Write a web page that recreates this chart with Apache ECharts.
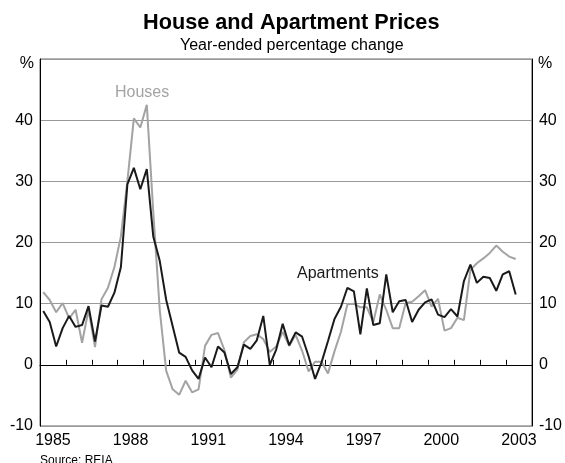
<!DOCTYPE html>
<html>
<head>
<meta charset="utf-8">
<script src="https://cdn.jsdelivr.net/npm/echarts@6/dist/echarts.min.js"></script>
<style>
  html, body { margin: 0; padding: 0; background: #fff; }
  #main { width: 565px; height: 463px; }
</style>
</head>
<body>
<div id="main"></div>
<script>
// quarterly data, March 1985 to June 2003
var firstYear = 1985;
var apartments = [
    8.8, 7.0, 3.0, 6.0, 8.0, 6.2, 6.5, 9.6,
    3.8, 9.7, 9.5, 11.8, 16.0, 29.5, 32.2, 28.7,
    32.0, 21.0, 17.0, 10.6, 6.3, 2.0, 1.3, -0.9,
    -2.3, 1.2, -0.4, 3.0, 2.0, -1.5, -0.4, 3.3,
    2.6, 4.0, 8.0, 0.0, 2.5, 6.7, 3.2, 5.3,
    4.6, 1.4, -2.3, 0.4, 3.9, 7.5, 9.5, 12.6,
    12.0, 5.0, 12.5, 6.5, 6.8, 14.8, 8.6, 10.4,
    10.6, 7.0, 9.0, 10.2, 10.7, 8.2, 7.8, 9.1,
    7.9, 13.7, 16.4, 13.4, 14.4, 14.2, 12.1, 14.8,
    15.3, 11.5
];
var houses = [
    11.9, 10.6, 8.6, 10.1, 7.6, 9.0, 3.6, 9.0,
    2.9, 10.7, 12.6, 16.0, 21.0, 30.0, 40.3, 38.8,
    42.5, 25.0, 9.0, -1.0, -4.0, -4.9, -2.6, -4.5,
    -4.0, 3.1, 4.9, 5.2, 2.4, -2.1, -0.8, 3.7,
    4.7, 5.0, 4.2, 2.1, 3.0, 5.4, 3.1, 4.9,
    2.3, -1.1, 0.5, 0.5, -1.4, 2.2, 5.4, 9.9,
    10.0, 9.4, 9.4, 7.0, 11.5, 9.0, 6.0, 6.0,
    10.1, 10.3, 11.2, 12.2, 9.5, 10.8, 5.6, 6.0,
    7.7, 7.3, 15.5, 16.6, 17.4, 18.3, 19.5, 18.5,
    17.7, 17.3
];
var yearLabels = [1985, 1988, 1991, 1994, 1997, 2000, 2003];
var yTicks = [-10, 0, 10, 20, 30, 40];

// each quarter sits at its middle
function toPoints(values) {
    var pts = [];
    for (var i = 0; i < values.length; i++) {
        pts.push([firstYear + 0.125 + i * 0.25, values[i]]);
    }
    return pts;
}

var font = 'Arial, "Liberation Sans", sans-serif';
var dom = document.getElementById('main');
var myChart = echarts.init(dom, null, { renderer: 'canvas' });

var yLabel = function (v) {
    return yTicks.indexOf(v) >= 0 ? String(v) : '';
};

var option = {
    backgroundColor: '#fff',
    animation: false,
    title: [{
        text: 'House and Apartment Prices',
        left: 138,
        top: 7,
        textStyle: { fontFamily: font, fontSize: 21.7, fontWeight: 'bold', color: '#000' }
    }, {
        text: 'Year-ended percentage change',
        left: 175,
        top: 33,
        textStyle: { fontFamily: font, fontSize: 16, fontWeight: 'normal', color: '#000' }
    }],
    grid: {
        left: 40,
        right: 31,
        top: 59,
        bottom: 37,
        show: true,
        borderColor: '#666',
        borderWidth: 1
    },
    xAxis: [{
        type: 'value',
        min: 1985,
        max: 2004,
        interval: 1,
        position: 'bottom',
        axisLine: { lineStyle: { color: '#000', width: 1 } },
        axisTick: { inside: true, length: 5, lineStyle: { color: '#000' } },
        axisLabel: { show: false },
        splitLine: { show: false }
    }, {
        type: 'value',
        min: 1985,
        max: 2004,
        interval: 0.5,
        position: 'bottom',
        axisLine: { show: false },
        axisTick: { show: false },
        splitLine: { show: false },
        axisLabel: {
            margin: 7,
            fontFamily: font,
            fontSize: 16,
            color: '#000',
            formatter: function (v) {
                var y = Math.floor(v);
                if (Math.abs(v - y - 0.5) < 1e-6 && yearLabels.indexOf(y) >= 0) {
                    return String(y);
                }
                return '';
            }
        }
    }],
    yAxis: [{
        type: 'value',
        min: -10,
        max: 50,
        interval: 10,
        position: 'left',
        name: '%',
        nameLocation: 'end',
        nameGap: -5,
        nameTextStyle: { fontFamily: font, fontSize: 16, color: '#000', align: 'right', verticalAlign: 'middle', padding: [0, 6, 0, 0] },
        axisLine: { show: true, lineStyle: { color: '#000', width: 1 } },
        axisTick: { show: false },
        axisLabel: { margin: 7, fontFamily: font, fontSize: 16, color: '#000', formatter: yLabel },
        splitLine: { show: true, lineStyle: { color: '#999', width: 1 } }
    }, {
        type: 'value',
        min: -10,
        max: 50,
        interval: 10,
        position: 'right',
        name: '%',
        nameLocation: 'end',
        nameGap: -5,
        nameTextStyle: { fontFamily: font, fontSize: 16, color: '#000', align: 'left', verticalAlign: 'middle', padding: [0, 0, 0, 6] },
        axisLine: { show: true, lineStyle: { color: '#000', width: 1 } },
        axisTick: { show: false },
        axisLabel: { margin: 7, fontFamily: font, fontSize: 16, color: '#000', formatter: yLabel },
        splitLine: { show: false }
    }],
    series: [{
        name: 'Houses',
        type: 'line',
        xAxisIndex: 0,
        yAxisIndex: 0,
        data: toPoints(houses),
        showSymbol: false,
        lineStyle: { color: '#a3a3a3', width: 2 },
        z: 2
    }, {
        name: 'Apartments',
        type: 'line',
        xAxisIndex: 0,
        yAxisIndex: 0,
        data: toPoints(apartments),
        showSymbol: false,
        lineStyle: { color: '#1a1a1a', width: 2 },
        z: 3
    }],
    graphic: [{
        type: 'text',
        left: 115,
        top: 85,
        style: { text: 'Houses', font: '16px ' + font, fill: '#a3a3a3' }
    }, {
        type: 'text',
        left: 297,
        top: 266,
        style: { text: 'Apartments', font: '16px ' + font, fill: '#1a1a1a' }
    }, {
        type: 'text',
        left: 40,
        top: 455,
        style: { text: 'Source: REIA', font: '12px ' + font, fill: '#000' }
    }]
};

if (option && typeof option === 'object') {
    myChart.setOption(option, true);
}
</script>
</body>
</html>
